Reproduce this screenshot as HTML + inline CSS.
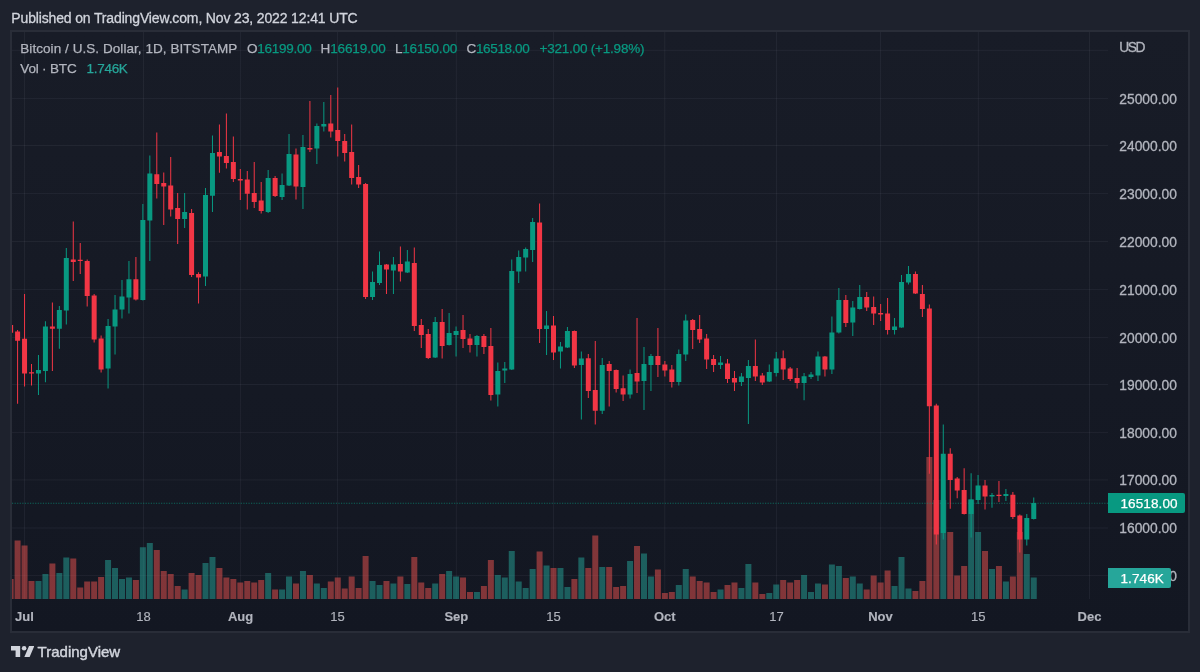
<!DOCTYPE html>
<html lang="en"><head><meta charset="utf-8"><title>BTCUSD chart</title>
<style>
html,body{margin:0;padding:0}
body{width:1200px;height:672px;background:#1e222d;position:relative;overflow:hidden;font-family:"Liberation Sans",Arial,sans-serif;font-size:13.5px;color:#b2b5be}
#pane{position:absolute;left:10px;top:30px;width:1180px;height:603px;box-sizing:border-box;border:2px solid #292d38;background:linear-gradient(180deg,#181c27 0%,#131722 100%)}
.t{position:absolute;white-space:nowrap;line-height:16px;-webkit-text-stroke:0.25px}
#title{transform:translateY(0.5px);left:11.3px;top:9px;font-size:14px;color:#d1d4dc;-webkit-text-stroke:0.3px #d1d4dc}
.g{color:#089981}
.ax{position:absolute;left:1119.3px;width:60px;height:16px;line-height:16px;font-size:13.8px;white-space:nowrap;letter-spacing:0px;-webkit-text-stroke:0.3px #b2b5be}
.xl{-webkit-text-stroke:0.15px;transform:translateY(0.5px);position:absolute;top:608px;width:60px;text-align:center;height:16px;line-height:16px;font-size:13px;white-space:nowrap}
.xl.m{font-weight:bold}
.lab{position:absolute;left:1108px;height:20px;line-height:20px;color:#fff;font-size:13.5px;border-radius:0 2px 2px 0;padding-left:12.5px;box-sizing:border-box;letter-spacing:0.1px;-webkit-text-stroke:0.25px #fff}
.lab span{position:relative;top:1.4px}
#logo{position:absolute;left:37.6px;top:643px;transform:translateY(0.1px);font-size:15px;line-height:18px;color:#d1d4dc;-webkit-text-stroke:0.45px #d1d4dc;letter-spacing:0px}
</style></head><body>
<div id="pane"></div>
<svg width="1200" height="672" viewBox="0 0 1200 672" style="position:absolute;left:0;top:0">
<defs><clipPath id="cp"><rect x="12" y="32" width="1096" height="567"/></clipPath></defs>
<path d="M12 575.6H1108M12 528.0H1108M12 479.9H1108M12 432.4H1108M12 384.5H1108M12 337.4H1108M12 289.4H1108M12 241.5H1108M12 193.4H1108M12 145.5H1108M12 98.4H1108M12 50.3H1108M24.5 32V599M143.5 32V599M240.6 32V599M337.45 32V599M456.3 32V599M553.45 32V599M664.8 32V599M776.45 32V599M880.45 32V599M978.3 32V599M1089.5 32V599" stroke="rgba(240,243,250,0.055)" stroke-width="1" fill="none"/>
<g clip-path="url(#cp)" >
<path d="M35.47 599v-18.0h6v18.0zM42.43 599v-25.0h6v25.0zM56.35 599v-26.0h6v26.0zM63.31 599v-41.4h6v41.4zM105.07 599v-39.0h6v39.0zM112.03 599v-31.0h6v31.0zM118.99 599v-20.0h6v20.0zM125.95 599v-21.6h6v21.6zM139.87 599v-51.8h6v51.8zM146.83 599v-56.0h6v56.0zM181.63 599v-9.6h6v9.6zM202.51 599v-36.0h6v36.0zM209.47 599v-42.0h6v42.0zM265.15 599v-26.0h6v26.0zM279.07 599v-9.4h6v9.4zM286.03 599v-22.4h6v22.4zM299.95 599v-28.0h6v28.0zM313.87 599v-15.6h6v15.6zM320.83 599v-11.0h6v11.0zM369.55 599v-18.0h6v18.0zM376.51 599v-14.0h6v14.0zM390.43 599v-15.6h6v15.6zM404.35 599v-15.0h6v15.0zM432.19 599v-15.6h6v15.6zM446.11 599v-28.0h6v28.0zM453.07 599v-22.4h6v22.4zM473.95 599v-7.0h6v7.0zM494.83 599v-24.0h6v24.0zM501.79 599v-21.6h6v21.6zM508.75 599v-48.0h6v48.0zM515.71 599v-17.4h6v17.4zM522.67 599v-11.0h6v11.0zM529.63 599v-30.0h6v30.0zM543.55 599v-33.6h6v33.6zM557.47 599v-31.0h6v31.0zM564.43 599v-12.0h6v12.0zM578.35 599v-41.4h6v41.4zM599.23 599v-32.0h6v32.0zM627.07 599v-38.0h6v38.0zM640.99 599v-45.6h6v45.6zM647.95 599v-22.4h6v22.4zM675.79 599v-14.0h6v14.0zM682.75 599v-30.0h6v30.0zM717.55 599v-9.6h6v9.6zM738.43 599v-11.0h6v11.0zM745.39 599v-35.0h6v35.0zM766.27 599v-6.0h6v6.0zM773.23 599v-14.6h6v14.6zM801.07 599v-24.0h6v24.0zM808.03 599v-7.0h6v7.0zM814.99 599v-15.6h6v15.6zM828.91 599v-34.6h6v34.6zM835.87 599v-33.0h6v33.0zM849.79 599v-22.4h6v22.4zM856.75 599v-15.6h6v15.6zM891.55 599v-13.0h6v13.0zM898.51 599v-42.0h6v42.0zM905.47 599v-10.4h6v10.4zM940.27 599v-99.0h6v99.0zM968.11 599v-99.6h6v99.6zM975.07 599v-67.0h6v67.0zM988.99 599v-30.0h6v30.0zM1002.91 599v-17.4h6v17.4zM1023.79 599v-45.0h6v45.0zM1030.75 599v-21.6h6v21.6z" fill="rgba(38,166,154,0.5)" shape-rendering="auto"/>
<path d="M7.63 599v-20.0h6v20.0zM14.59 599v-58.6h6v58.6zM21.55 599v-53.4h6v53.4zM28.51 599v-18.0h6v18.0zM49.39 599v-35.4h6v35.4zM70.27 599v-40.6h6v40.6zM77.23 599v-11.4h6v11.4zM84.19 599v-17.4h6v17.4zM91.15 599v-17.4h6v17.4zM98.11 599v-22.0h6v22.0zM132.91 599v-19.0h6v19.0zM153.79 599v-49.0h6v49.0zM160.75 599v-28.0h6v28.0zM167.71 599v-25.0h6v25.0zM174.67 599v-13.0h6v13.0zM188.59 599v-26.0h6v26.0zM195.55 599v-24.0h6v24.0zM216.43 599v-31.0h6v31.0zM223.39 599v-21.6h6v21.6zM230.35 599v-20.0h6v20.0zM237.31 599v-16.6h6v16.6zM244.27 599v-18.0h6v18.0zM251.23 599v-16.4h6v16.4zM258.19 599v-19.0h6v19.0zM272.11 599v-9.4h6v9.4zM292.99 599v-15.6h6v15.6zM306.91 599v-24.0h6v24.0zM327.79 599v-17.4h6v17.4zM334.75 599v-21.6h6v21.6zM341.71 599v-10.4h6v10.4zM348.67 599v-22.4h6v22.4zM355.63 599v-11.0h6v11.0zM362.59 599v-43.0h6v43.0zM383.47 599v-18.0h6v18.0zM397.39 599v-22.4h6v22.4zM411.31 599v-42.0h6v42.0zM418.27 599v-16.4h6v16.4zM425.23 599v-11.0h6v11.0zM439.15 599v-25.0h6v25.0zM460.03 599v-21.6h6v21.6zM466.99 599v-7.0h6v7.0zM480.91 599v-13.0h6v13.0zM487.87 599v-39.0h6v39.0zM536.59 599v-47.4h6v47.4zM550.51 599v-31.0h6v31.0zM571.39 599v-20.0h6v20.0zM585.31 599v-31.0h6v31.0zM592.27 599v-63.6h6v63.6zM606.19 599v-32.0h6v32.0zM613.15 599v-12.0h6v12.0zM620.11 599v-13.0h6v13.0zM634.03 599v-53.0h6v53.0zM654.91 599v-29.4h6v29.4zM661.87 599v-6.0h6v6.0zM668.83 599v-7.0h6v7.0zM689.71 599v-22.4h6v22.4zM696.67 599v-18.0h6v18.0zM703.63 599v-16.4h6v16.4zM710.59 599v-7.0h6v7.0zM724.51 599v-14.0h6v14.0zM731.47 599v-16.4h6v16.4zM752.35 599v-16.4h6v16.4zM759.31 599v-5.0h6v5.0zM780.19 599v-19.0h6v19.0zM787.15 599v-16.4h6v16.4zM794.11 599v-19.0h6v19.0zM821.95 599v-14.6h6v14.6zM842.83 599v-21.0h6v21.0zM863.71 599v-9.6h6v9.6zM870.67 599v-23.4h6v23.4zM877.63 599v-16.4h6v16.4zM884.59 599v-28.6h6v28.6zM912.43 599v-8.0h6v8.0zM919.39 599v-18.0h6v18.0zM926.35 599v-142.0h6v142.0zM933.31 599v-99.0h6v99.0zM947.23 599v-67.0h6v67.0zM954.19 599v-23.4h6v23.4zM961.15 599v-33.0h6v33.0zM982.03 599v-48.0h6v48.0zM995.95 599v-33.0h6v33.0zM1009.87 599v-22.4h6v22.4zM1016.83 599v-67.0h6v67.0z" fill="rgba(239,83,80,0.5)" shape-rendering="auto"/>
</g>
<path d="M12 503.26H1108" stroke="#089981" stroke-width="1.2" stroke-dasharray="1.2 1.37" fill="none" opacity="0.6"/>
<g clip-path="url(#cp)">
<path d="M37.97 355.0h1V395.0h-1zM44.93 321.3h1V382.2h-1zM58.85 306.0h1V348.7h-1zM65.81 248.0h1V324.4h-1zM107.57 319.0h1V388.4h-1zM114.53 295.0h1V354.6h-1zM121.49 280.0h1V318.6h-1zM128.45 261.0h1V313.6h-1zM142.37 204.0h1V300.6h-1zM149.33 155.5h1V261.0h-1zM184.13 193.0h1V228.0h-1zM205.01 188.0h1V286.0h-1zM211.97 135.6h1V212.0h-1zM267.65 170.0h1V213.0h-1zM281.57 173.4h1V200.0h-1zM288.53 134.0h1V186.0h-1zM302.45 135.0h1V209.0h-1zM316.37 123.6h1V164.0h-1zM323.33 102.0h1V131.6h-1zM372.05 271.6h1V300.0h-1zM379.01 251.6h1V285.0h-1zM392.93 257.0h1V294.0h-1zM406.85 250.0h1V273.0h-1zM434.69 317.0h1V358.0h-1zM448.61 313.0h1V345.5h-1zM455.57 326.4h1V356.4h-1zM476.45 335.0h1V356.4h-1zM497.33 362.6h1V406.4h-1zM504.29 362.0h1V383.0h-1zM511.25 259.4h1V370.0h-1zM518.21 250.4h1V283.0h-1zM525.17 247.4h1V271.6h-1zM532.13 218.0h1V262.0h-1zM546.05 311.0h1V355.0h-1zM559.97 342.0h1V368.6h-1zM566.93 327.0h1V348.0h-1zM580.85 351.5h1V419.4h-1zM601.73 358.0h1V414.0h-1zM629.57 369.4h1V398.6h-1zM643.49 347.0h1V410.0h-1zM650.45 354.0h1V391.0h-1zM678.29 349.4h1V385.6h-1zM685.25 314.4h1V361.0h-1zM720.05 356.0h1V369.0h-1zM740.93 373.0h1V386.0h-1zM747.89 360.0h1V424.0h-1zM768.77 364.4h1V382.0h-1zM775.73 352.0h1V376.4h-1zM803.57 373.0h1V400.2h-1zM810.53 372.0h1V379.0h-1zM817.49 351.4h1V381.0h-1zM831.41 316.4h1V374.0h-1zM838.37 288.0h1V333.6h-1zM852.29 301.0h1V336.0h-1zM859.25 285.0h1V309.5h-1zM894.05 318.0h1V334.4h-1zM901.01 275.0h1V327.8h-1zM907.97 266.0h1V284.4h-1zM942.77 424.4h1V539.6h-1zM970.61 473.2h1V537.6h-1zM977.57 475.0h1V504.0h-1zM991.49 493.0h1V507.8h-1zM1005.41 489.0h1V501.0h-1zM1026.29 514.0h1V545.6h-1zM1033.25 497.4h1V519.6h-1z" fill="#089981"/>
<path d="M35.97 370.0h5V373.5h-5zM42.93 326.5h5V371.0h-5zM56.85 310.0h5V328.7h-5zM63.81 258.0h5V310.6h-5zM105.57 326.0h5V368.6h-5zM112.53 309.4h5V326.4h-5zM119.49 296.4h5V309.6h-5zM126.45 279.2h5V297.6h-5zM140.37 220.0h5V300.0h-5zM147.33 173.5h5V220.6h-5zM182.13 212.0h5V219.0h-5zM203.01 195.0h5V276.6h-5zM209.97 153.0h5V195.8h-5zM265.65 178.0h5V212.0h-5zM279.57 185.0h5V197.0h-5zM286.53 154.0h5V185.6h-5zM300.45 147.0h5V187.0h-5zM314.37 126.0h5V148.6h-5zM321.33 124.0h5V126.4h-5zM370.05 282.0h5V297.0h-5zM377.01 265.0h5V283.0h-5zM390.93 264.4h5V270.6h-5zM404.85 261.4h5V272.6h-5zM432.69 322.0h5V357.4h-5zM446.61 333.0h5V345.0h-5zM453.57 331.0h5V335.0h-5zM474.45 336.0h5V345.0h-5zM495.33 371.0h5V394.4h-5zM502.29 368.6h5V370.4h-5zM509.25 271.0h5V369.6h-5zM516.21 257.0h5V271.6h-5zM523.17 249.0h5V257.6h-5zM530.13 222.0h5V250.0h-5zM544.05 325.6h5V329.0h-5zM557.97 346.4h5V351.4h-5zM564.93 331.0h5V347.4h-5zM578.85 358.5h5V365.0h-5zM599.73 365.0h5V410.8h-5zM627.57 374.0h5V394.4h-5zM641.49 364.0h5V381.0h-5zM648.45 356.0h5V365.0h-5zM676.29 354.0h5V382.0h-5zM683.25 320.6h5V354.4h-5zM718.05 362.6h5V365.0h-5zM738.93 376.4h5V382.0h-5zM745.89 366.0h5V378.0h-5zM766.77 372.0h5V381.6h-5zM773.73 358.4h5V373.0h-5zM801.57 376.2h5V382.9h-5zM808.53 374.5h5V376.9h-5zM815.49 356.6h5V375.4h-5zM829.41 332.6h5V369.4h-5zM836.37 300.0h5V332.6h-5zM850.29 307.6h5V322.6h-5zM857.25 297.0h5V309.0h-5zM892.05 326.4h5V330.0h-5zM899.01 282.0h5V327.4h-5zM905.97 274.0h5V282.6h-5zM940.77 453.8h5V533.0h-5zM968.61 499.4h5V514.0h-5zM975.57 485.4h5V500.0h-5zM989.49 495.0h5V496.5h-5zM1003.41 494.0h5V496.0h-5zM1024.29 518.0h5V539.6h-5zM1031.25 503.0h5V519.0h-5z" fill="#089981"/>
<path d="M10.13 324.0h1V345.0h-1zM17.09 330.0h1V403.7h-1zM24.05 294.0h1V386.5h-1zM31.01 364.0h1V385.6h-1zM51.89 302.4h1V371.0h-1zM72.77 221.4h1V281.0h-1zM79.73 243.0h1V274.0h-1zM86.69 259.6h1V306.6h-1zM93.65 294.0h1V342.4h-1zM100.61 335.4h1V372.6h-1zM135.41 257.0h1V300.6h-1zM156.29 132.4h1V198.5h-1zM163.25 172.6h1V225.0h-1zM170.21 157.0h1V216.6h-1zM177.17 193.0h1V244.0h-1zM191.09 209.0h1V277.0h-1zM198.05 272.2h1V303.4h-1zM218.93 124.4h1V172.8h-1zM225.89 113.4h1V168.4h-1zM232.85 136.6h1V182.0h-1zM239.81 169.0h1V200.0h-1zM246.77 171.0h1V209.6h-1zM253.73 162.0h1V208.0h-1zM260.69 182.0h1V213.6h-1zM274.61 176.0h1V197.0h-1zM295.49 148.6h1V199.4h-1zM309.41 101.0h1V152.0h-1zM330.29 95.0h1V137.6h-1zM337.25 87.4h1V156.4h-1zM344.21 134.0h1V161.6h-1zM351.17 124.4h1V184.5h-1zM358.13 165.0h1V188.0h-1zM365.09 183.0h1V299.0h-1zM385.97 264.0h1V294.0h-1zM399.89 246.4h1V281.6h-1zM413.81 247.4h1V331.0h-1zM420.77 319.0h1V348.0h-1zM427.73 329.0h1V359.0h-1zM441.65 309.0h1V358.4h-1zM462.53 315.0h1V348.0h-1zM469.49 334.0h1V352.4h-1zM483.41 334.0h1V354.0h-1zM490.37 328.0h1V400.6h-1zM539.09 203.6h1V343.0h-1zM553.01 316.0h1V360.0h-1zM573.89 330.5h1V368.0h-1zM587.81 354.0h1V398.0h-1zM594.77 341.0h1V424.4h-1zM608.69 361.0h1V406.6h-1zM615.65 369.5h1V392.5h-1zM622.61 375.5h1V401.0h-1zM636.53 318.0h1V393.0h-1zM657.41 328.0h1V377.0h-1zM664.37 361.0h1V376.4h-1zM671.33 365.0h1V387.6h-1zM692.21 319.0h1V349.0h-1zM699.17 315.0h1V343.0h-1zM706.13 334.0h1V369.0h-1zM713.09 355.0h1V372.0h-1zM727.01 359.0h1V383.0h-1zM733.97 371.0h1V391.0h-1zM754.85 339.4h1V381.0h-1zM761.81 373.0h1V385.0h-1zM782.69 350.5h1V380.0h-1zM789.65 367.0h1V381.0h-1zM796.61 368.0h1V388.4h-1zM824.45 356.0h1V376.4h-1zM845.33 295.0h1V327.0h-1zM866.21 292.0h1V311.0h-1zM873.17 296.4h1V325.0h-1zM880.13 304.0h1V321.0h-1zM887.09 298.0h1V334.4h-1zM914.93 271.4h1V294.0h-1zM921.89 285.0h1V317.0h-1zM928.85 304.4h1V473.8h-1zM935.81 403.7h1V544.6h-1zM949.73 448.2h1V508.8h-1zM956.69 477.0h1V498.2h-1zM963.65 468.2h1V514.5h-1zM984.53 480.0h1V509.6h-1zM998.45 481.0h1V502.0h-1zM1012.37 492.0h1V519.0h-1zM1019.33 514.6h1V552.4h-1z" fill="#f23645"/>
<path d="M8.13 325.0h5V332.7h-5zM15.09 331.6h5V340.7h-5zM22.05 338.7h5V373.5h-5zM29.01 372.2h5V373.5h-5zM49.89 326.5h5V328.8h-5zM70.77 259.4h5V262.0h-5zM77.73 259.8h5V261.0h-5zM84.69 261.0h5V296.0h-5zM91.65 295.6h5V339.4h-5zM98.61 338.6h5V369.4h-5zM133.41 279.2h5V299.4h-5zM154.29 174.2h5V184.0h-5zM161.25 183.0h5V186.6h-5zM168.21 185.5h5V209.6h-5zM175.17 208.0h5V219.0h-5zM189.09 213.0h5V275.0h-5zM196.05 274.0h5V277.6h-5zM216.93 152.0h5V156.4h-5zM223.89 156.0h5V163.0h-5zM230.85 162.0h5V179.0h-5zM237.81 179.0h5V180.6h-5zM244.77 179.5h5V193.8h-5zM251.73 193.0h5V202.0h-5zM258.69 200.6h5V211.0h-5zM272.61 178.0h5V196.0h-5zM293.49 154.6h5V186.6h-5zM307.41 148.0h5V149.4h-5zM328.29 123.6h5V131.6h-5zM335.25 130.0h5V141.0h-5zM342.21 141.0h5V153.0h-5zM349.17 152.0h5V178.0h-5zM356.13 177.0h5V184.5h-5zM363.09 184.0h5V297.0h-5zM383.97 264.4h5V269.6h-5zM397.89 264.0h5V271.6h-5zM411.81 263.0h5V326.0h-5zM418.77 325.0h5V335.0h-5zM425.73 334.0h5V358.0h-5zM439.65 322.0h5V346.0h-5zM460.53 330.0h5V339.0h-5zM467.49 338.6h5V345.0h-5zM481.41 336.0h5V347.0h-5zM488.37 346.0h5V395.0h-5zM537.09 222.6h5V329.0h-5zM551.01 325.6h5V352.4h-5zM571.89 331.0h5V365.5h-5zM585.81 358.2h5V391.0h-5zM592.77 390.0h5V410.8h-5zM606.69 364.0h5V371.0h-5zM613.65 370.0h5V389.0h-5zM620.61 388.2h5V394.4h-5zM634.53 373.0h5V381.6h-5zM655.41 356.0h5V365.0h-5zM662.37 364.4h5V370.4h-5zM669.33 369.4h5V382.0h-5zM690.21 320.0h5V330.0h-5zM697.17 329.0h5V339.4h-5zM704.13 338.6h5V359.6h-5zM711.09 359.0h5V365.0h-5zM725.01 363.6h5V379.0h-5zM731.97 378.0h5V382.4h-5zM752.85 366.0h5V376.4h-5zM759.81 375.6h5V382.4h-5zM780.69 358.2h5V369.4h-5zM787.65 368.6h5V379.0h-5zM794.61 378.0h5V383.0h-5zM822.45 356.6h5V369.4h-5zM843.33 300.0h5V323.0h-5zM864.21 297.0h5V307.6h-5zM871.17 307.0h5V313.6h-5zM878.13 313.0h5V314.4h-5zM885.09 313.6h5V330.0h-5zM912.93 274.0h5V293.6h-5zM919.89 294.0h5V309.0h-5zM926.85 308.6h5V406.2h-5zM933.81 405.6h5V534.6h-5zM947.73 453.8h5V480.0h-5zM954.69 478.5h5V490.6h-5zM961.65 490.0h5V514.0h-5zM982.53 485.4h5V496.6h-5zM996.45 494.8h5V495.9h-5zM1010.37 494.8h5V517.0h-5zM1017.33 515.6h5V539.6h-5z" fill="#f23645"/>
</g>
</svg>
<div id="title" class="t" style="letter-spacing:-0.147px;">Published on TradingView.com, Nov 23, 2022 12:41 UTC</div>
<div class="t" id="l1" style="letter-spacing:0.058px;left:20.3px;top:41px">Bitcoin / U.S. Dollar, 1D, BITSTAMP</div>
<div class="t" id="lo" style="letter-spacing:-0.248px;left:247px;top:41px">O<span class="g">16199.00</span></div>
<div class="t" id="lh" style="letter-spacing:-0.107px;left:320.5px;top:41px">H<span class="g">16619.00</span></div>
<div class="t" id="ll" style="letter-spacing:-0.203px;left:395px;top:41px">L<span class="g">16150.00</span></div>
<div class="t" id="lc" style="letter-spacing:-0.351px;left:466.5px;top:41px">C<span class="g">16518.00</span></div>
<div class="t g" id="lchg" style="letter-spacing:-0.206px;left:539.5px;top:41px">+321.00 (+1.98%)</div>
<div class="t" id="l2" style="letter-spacing:-0.174px;left:20.3px;top:61px">Vol · BTC</div>
<div class="t" id="l2v" style="letter-spacing:-0.283px;left:86.5px;top:61px;color:#26a69a">1.746K</div>
<div class="ax" style="top:39px;transform:translateY(0.6px);letter-spacing:-1.5px">USD</div>
<div class="ax" style="top:521px;transform:translateY(0.20px)">16000.00</div>
<div class="ax" style="top:473px;transform:translateY(0.10px)">17000.00</div>
<div class="ax" style="top:425px;transform:translateY(0.60px)">18000.00</div>
<div class="ax" style="top:377px;transform:translateY(0.70px)">19000.00</div>
<div class="ax" style="top:330px;transform:translateY(0.60px)">20000.00</div>
<div class="ax" style="top:282px;transform:translateY(0.60px)">21000.00</div>
<div class="ax" style="top:234px;transform:translateY(0.70px)">22000.00</div>
<div class="ax" style="top:186px;transform:translateY(0.60px)">23000.00</div>
<div class="ax" style="top:138px;transform:translateY(0.70px)">24000.00</div>
<div class="ax" style="top:91px;transform:translateY(0.60px)">25000.00</div>
<div class="ax" style="top:568px;transform:translateY(0.80px)">15000.00</div>
<div class="lab" id="vlab" style="top:568px;width:62.5px;background:#26a69a"><span>1.746K</span></div>
<div class="lab" id="plab" style="top:493px;width:76.5px;background:#089981"><span>16518.00</span></div>
<div class="xl m" style="left:-5.5px">Jul</div>
<div class="xl" style="left:113.5px">18</div>
<div class="xl m" style="left:210.6px">Aug</div>
<div class="xl" style="left:307.45px">15</div>
<div class="xl m" style="left:426.3px">Sep</div>
<div class="xl" style="left:523.45px">15</div>
<div class="xl m" style="left:634.8px">Oct</div>
<div class="xl" style="left:746.45px">17</div>
<div class="xl m" style="left:850.45px">Nov</div>
<div class="xl" style="left:948.3px">15</div>
<div class="xl m" style="left:1059.5px">Dec</div>
<svg id="tvlogo" style="position:absolute;left:10.9px;top:645.9px" width="23.6" height="11.6" viewBox="0 0 36 18" preserveAspectRatio="none"><path fill="#d1d4dc" d="M14 18H7V7H0V0h14v18zM28 18h-8l7.5-18h8L28 18z"/><circle fill="#d1d4dc" cx="20" cy="3.5" r="3.5"/></svg>
<div id="logo">TradingView</div>
</body></html>
